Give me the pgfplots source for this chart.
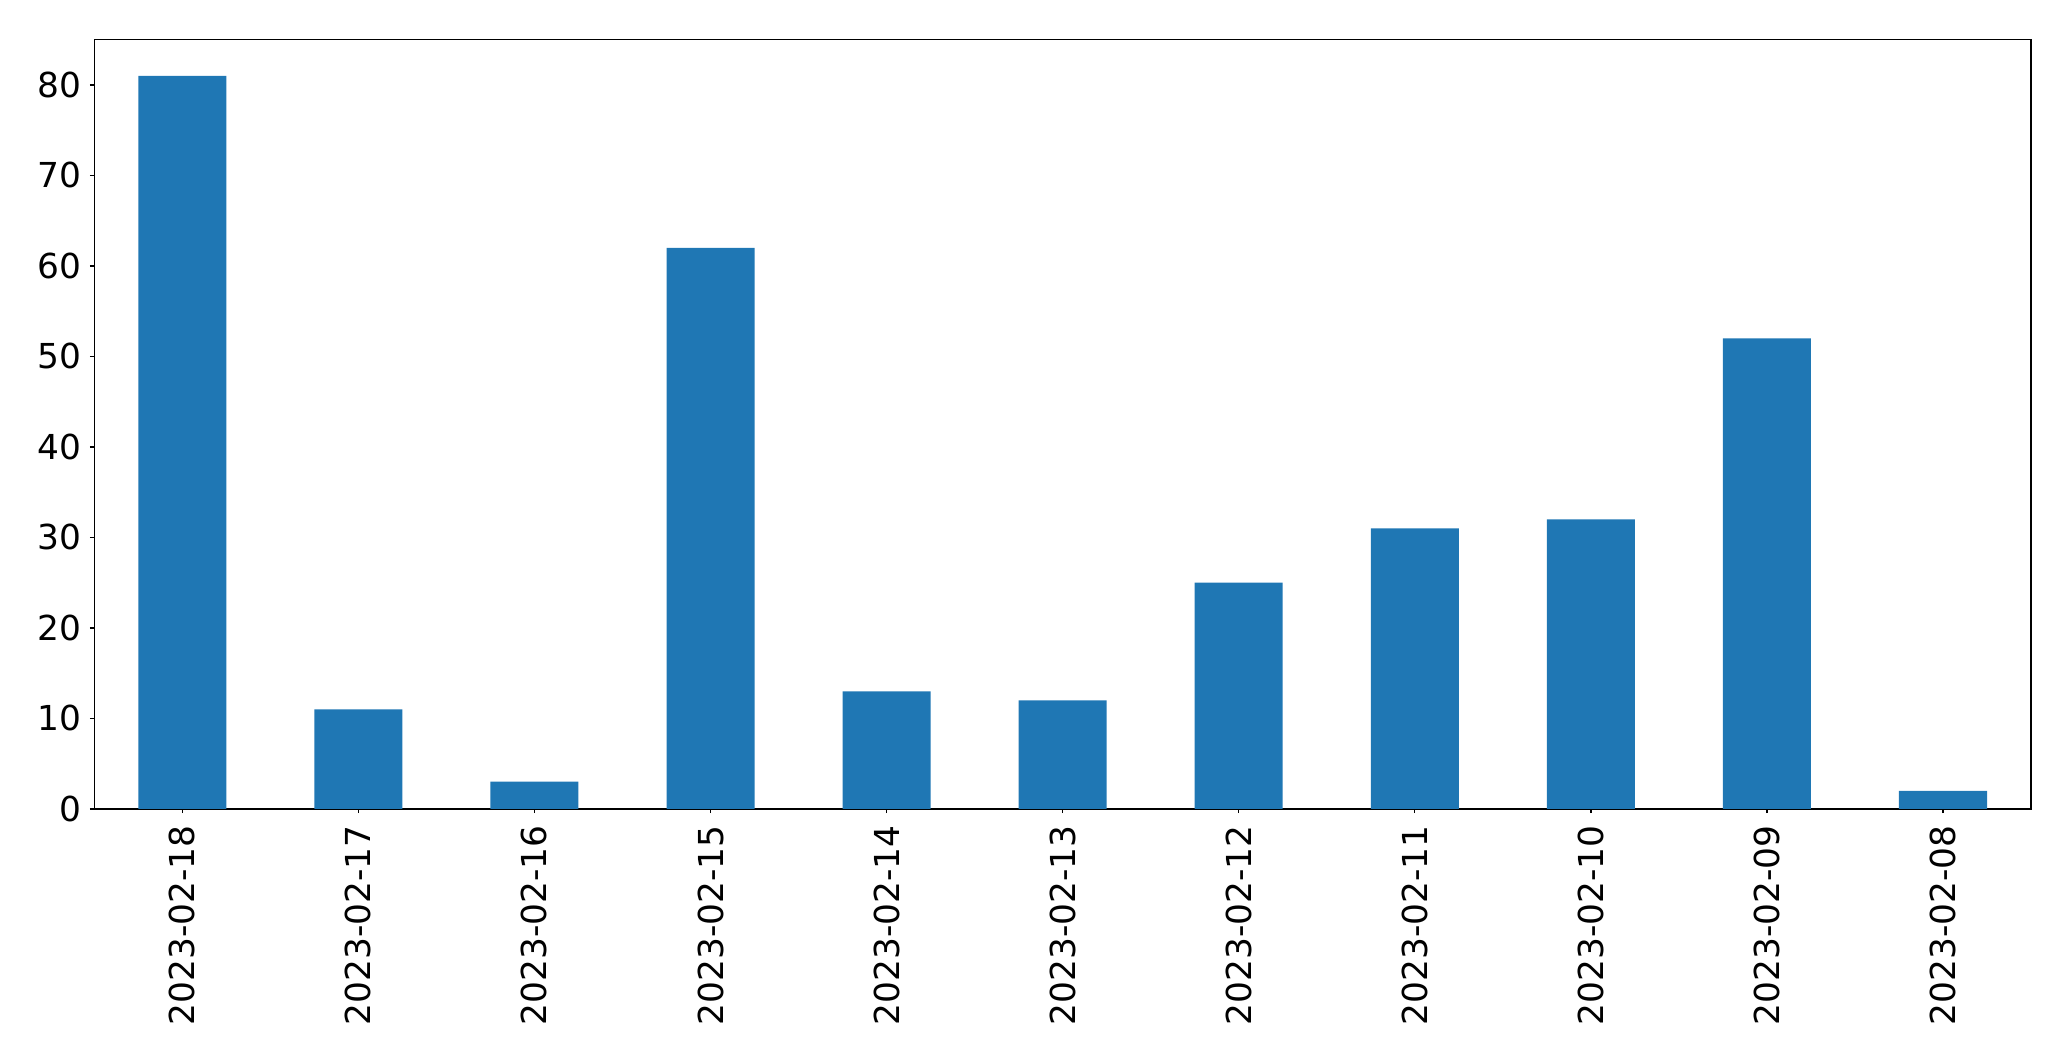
\documentclass[border=0pt]{standalone}
\usepackage{fontspec}
\setmainfont{DejaVu Sans}
\usepackage{pgfplots}
\pgfplotsset{compat=1.18}
\definecolor{mplblue}{HTML}{1F77B4}
\begin{document}
\fontsize{17.2}{20}\selectfont
\begin{tikzpicture}
\begin{axis}[
  scale only axis,
  width=968.5pt, height=384.85pt,
  xmin=-0.5, xmax=10.5, ymin=0, ymax=85.05,
  xtick={0,...,10},
  xticklabels={2023-02-18,2023-02-17,2023-02-16,2023-02-15,2023-02-14,2023-02-13,2023-02-12,2023-02-11,2023-02-10,2023-02-09,2023-02-08},
  xticklabel style={rotate=90, anchor=east, inner sep=0pt, yshift=0pt, xshift=-6pt},
  ytick={0,10,...,80},
  yticklabel style={anchor=east, inner sep=0pt, xshift=-4pt},
  /pgf/number format/assume math mode=true,
  tick align=outside,
  major tick length=2.15pt,
  tick style={black, line width=0.65pt},
  axis line style={black, line width=0.65pt},
  xtick pos=bottom, ytick pos=left,
  ticklabel style={font=\fontsize{17.2}{20}\selectfont},
]
\addplot[ybar, bar width=0.5, fill=mplblue, draw=none] coordinates {
(0,81) (1,11) (2,3) (3,62) (4,13) (5,12) (6,25) (7,31) (8,32) (9,52) (10,2)
};
\end{axis}
\useasboundingbox ([xshift=-47.15pt,yshift=-126pt]current axis.south west) rectangle ([xshift=20pt,yshift=19.65pt]current axis.north east);
\end{tikzpicture}
\end{document}
